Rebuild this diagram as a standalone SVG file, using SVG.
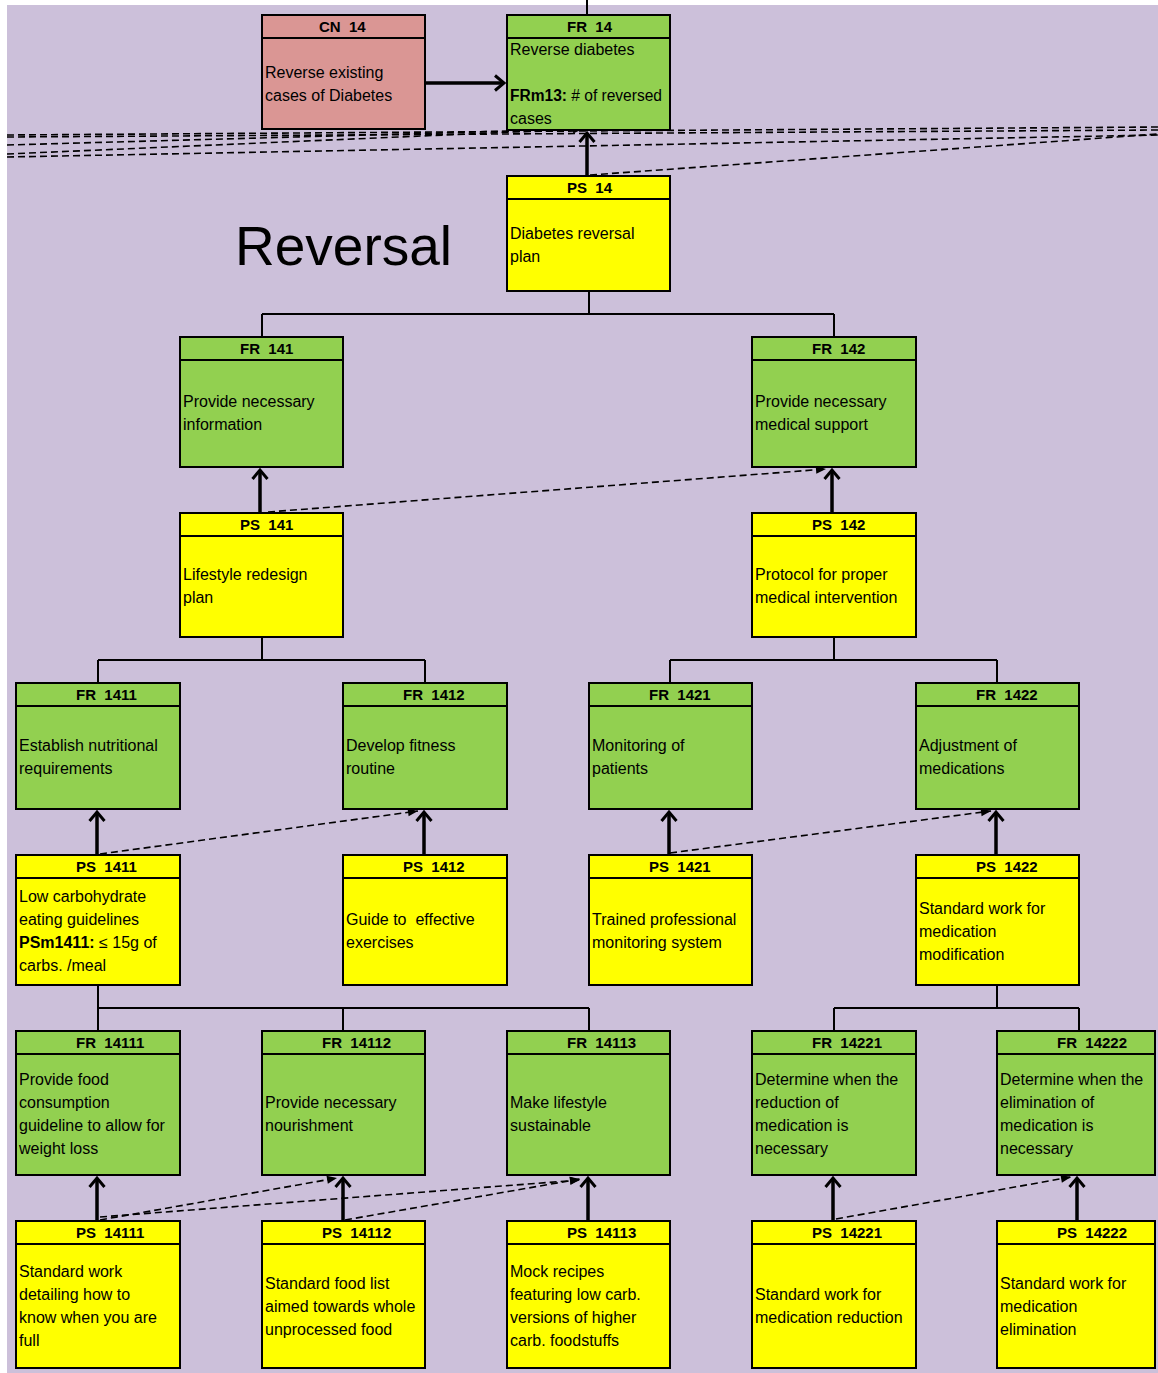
<svg xmlns="http://www.w3.org/2000/svg" width="1158" height="1373" viewBox="0 0 1158 1373">
  <style>
    .box { stroke: #000; stroke-width: 2; }
    .fr { fill: #92D050; }
    .ps { fill: #FFFF00; }
    .cn { fill: #DA9694; }
    .sep { stroke: #000; stroke-width: 2; }
    .hd { font-family: "Liberation Sans", Arial, sans-serif; font-size: 15px; font-weight: bold; fill: #000; white-space: pre; }
    .tx { font-family: "Liberation Sans", Arial, sans-serif; font-size: 16px; fill: #000; white-space: pre; }
    .b { font-weight: bold; }
    .tree { stroke: #000; stroke-width: 2; fill: none; }
    .solid { stroke: #000; stroke-width: 3.5; fill: none; marker-end: url(#openHead); }
    .dash { stroke: #000; stroke-width: 1.6; fill: none; stroke-dasharray: 7 4; }
    .dashArrow { stroke: #000; stroke-width: 1.6; fill: none; stroke-dasharray: 7 4; marker-end: url(#smallHead); }
    .title { font-family: "Liberation Sans", Arial, sans-serif; font-size: 55px; fill: #000; }
  </style>
  <defs>
    <marker id="openHead" markerUnits="userSpaceOnUse" markerWidth="20" markerHeight="20" refX="10" refY="8" orient="auto" overflow="visible">
      <path d="M1,0.5 L10,8 L1,15.5" fill="none" stroke="#000" stroke-width="3"/>
    </marker>
    <marker id="smallHead" markerUnits="userSpaceOnUse" markerWidth="12" markerHeight="10" refX="10" refY="4" orient="auto" overflow="visible">
      <path d="M0,0 L10,4 L0,8 z" fill="#000"/>
    </marker>
  </defs>

  <!-- page background -->
  <rect x="0" y="0" width="1158" height="1373" fill="#FFFFFF"/>
  <rect x="7" y="5" width="1151" height="1368" fill="#CCC0DA"/>

  <text class="title" x="235" y="265">Reversal</text>

  <!-- connectors -->
  <g id="connectors">
    <!-- hierarchy lines -->
    <path class="tree" d="M587,0 V15"/>
    <path class="tree" d="M589,291 V314 M262,314 H834 M262,314 V337 M834,314 V337"/>
    <path class="tree" d="M262,637 V660 M98,660 H425 M98,660 V683 M425,660 V683"/>
    <path class="tree" d="M834,637 V660 M670,660 H997 M670,660 V683 M997,660 V683"/>
    <path class="tree" d="M98,985 V1008 M98,1008 H589 M98,1008 V1031 M343,1008 V1031 M589,1008 V1031"/>
    <path class="tree" d="M997,985 V1008 M834,1008 H1079 M834,1008 V1031 M1079,1008 V1031"/>

    <!-- cross-page dashed links -->
    <path class="dash" d="M7,135 L1158,127"/>
    <path class="dash" d="M7,137 L1158,130"/>
    <path class="dash" d="M7,157 L1158,135"/>
    <path class="dash" d="M590,175 L1158,134"/>
    <path class="dash" d="M7,145 L583,129"/>
    <path class="dashArrow" d="M7,154 L583,129"/>

    <!-- solid arrows -->
    <path class="solid" d="M425,83 H504"/>
    <path class="solid" d="M587,176 V133"/>
    <path class="solid" d="M260,513 V470"/>
    <path class="solid" d="M832,513 V470"/>
    <path class="solid" d="M97,855 V812"/>
    <path class="solid" d="M424,855 V812"/>
    <path class="solid" d="M669,855 V812"/>
    <path class="solid" d="M996,855 V812"/>
    <path class="solid" d="M97,1221 V1178"/>
    <path class="solid" d="M343,1221 V1178"/>
    <path class="solid" d="M588,1221 V1178"/>
    <path class="solid" d="M833,1221 V1178"/>
    <path class="solid" d="M1077,1221 V1178"/>

    <!-- dashed dependency arrows -->
    <path class="dashArrow" d="M268,512 L826,469"/>
    <path class="dashArrow" d="M100,854 L418,811"/>
    <path class="dashArrow" d="M670,853 L991,811"/>
    <path class="dashArrow" d="M100,1220 L337,1178"/>
    <path class="dashArrow" d="M100,1217 L580,1180"/>
    <path class="dashArrow" d="M345,1220 L580,1179"/>
    <path class="dashArrow" d="M836,1219 L1071,1177"/>
  </g>

  <!-- nodes -->
  <g id="CN14">
    <rect class="box cn" x="262" y="15" width="163" height="114"/>
    <line class="sep" x1="262" y1="38" x2="425" y2="38"/>
    <text class="hd" x="319" y="32">CN  14</text>
    <text class="tx" x="265" y="78">Reverse existing</text>
    <text class="tx" x="265" y="101">cases of Diabetes</text>
  </g>
  <g id="FR14">
    <rect class="box fr" x="507" y="15" width="163" height="115"/>
    <line class="sep" x1="507" y1="38" x2="670" y2="38"/>
    <text class="hd" x="567" y="32">FR  14</text>
    <text class="tx" x="510" y="55">Reverse diabetes</text>
    <text class="tx" x="510" y="101" textLength="152" lengthAdjust="spacingAndGlyphs"><tspan class="b">FRm13:</tspan> # of reversed</text>
    <text class="tx" x="510" y="124">cases</text>
  </g>
  <g id="PS14">
    <rect class="box ps" x="507" y="176" width="163" height="115"/>
    <line class="sep" x1="507" y1="199" x2="670" y2="199"/>
    <text class="hd" x="567" y="193">PS  14</text>
    <text class="tx" x="510" y="239">Diabetes reversal</text>
    <text class="tx" x="510" y="262">plan</text>
  </g>

  <g id="FR141">
    <rect class="box fr" x="180" y="337" width="163" height="130"/>
    <line class="sep" x1="180" y1="360" x2="343" y2="360"/>
    <text class="hd" x="240" y="354">FR  141</text>
    <text class="tx" x="183" y="407">Provide necessary</text>
    <text class="tx" x="183" y="430">information</text>
  </g>
  <g id="FR142">
    <rect class="box fr" x="752" y="337" width="164" height="130"/>
    <line class="sep" x1="752" y1="360" x2="916" y2="360"/>
    <text class="hd" x="812" y="354">FR  142</text>
    <text class="tx" x="755" y="407">Provide necessary</text>
    <text class="tx" x="755" y="430">medical support</text>
  </g>
  <g id="PS141">
    <rect class="box ps" x="180" y="513" width="163" height="124"/>
    <line class="sep" x1="180" y1="536" x2="343" y2="536"/>
    <text class="hd" x="240" y="530">PS  141</text>
    <text class="tx" x="183" y="580">Lifestyle redesign</text>
    <text class="tx" x="183" y="603">plan</text>
  </g>
  <g id="PS142">
    <rect class="box ps" x="752" y="513" width="164" height="124"/>
    <line class="sep" x1="752" y1="536" x2="916" y2="536"/>
    <text class="hd" x="812" y="530">PS  142</text>
    <text class="tx" x="755" y="580">Protocol for proper</text>
    <text class="tx" x="755" y="603">medical intervention</text>
  </g>

  <g id="FR1411">
    <rect class="box fr" x="16" y="683" width="164" height="126"/>
    <line class="sep" x1="16" y1="706" x2="180" y2="706"/>
    <text class="hd" x="76" y="700">FR  1411</text>
    <text class="tx" x="19" y="751">Establish nutritional</text>
    <text class="tx" x="19" y="774">requirements</text>
  </g>
  <g id="FR1412">
    <rect class="box fr" x="343" y="683" width="164" height="126"/>
    <line class="sep" x1="343" y1="706" x2="507" y2="706"/>
    <text class="hd" x="403" y="700">FR  1412</text>
    <text class="tx" x="346" y="751">Develop fitness</text>
    <text class="tx" x="346" y="774">routine</text>
  </g>
  <g id="FR1421">
    <rect class="box fr" x="589" y="683" width="163" height="126"/>
    <line class="sep" x1="589" y1="706" x2="752" y2="706"/>
    <text class="hd" x="649" y="700">FR  1421</text>
    <text class="tx" x="592" y="751">Monitoring of</text>
    <text class="tx" x="592" y="774">patients</text>
  </g>
  <g id="FR1422">
    <rect class="box fr" x="916" y="683" width="163" height="126"/>
    <line class="sep" x1="916" y1="706" x2="1079" y2="706"/>
    <text class="hd" x="976" y="700">FR  1422</text>
    <text class="tx" x="919" y="751">Adjustment of</text>
    <text class="tx" x="919" y="774">medications</text>
  </g>

  <g id="PS1411">
    <rect class="box ps" x="16" y="855" width="164" height="130"/>
    <line class="sep" x1="16" y1="878" x2="180" y2="878"/>
    <text class="hd" x="76" y="872">PS  1411</text>
    <text class="tx" x="19" y="902">Low carbohydrate</text>
    <text class="tx" x="19" y="925">eating guidelines</text>
    <text class="tx" x="19" y="948"><tspan class="b">PSm1411:</tspan> ≤ 15g of</text>
    <text class="tx" x="19" y="971">carbs. /meal</text>
  </g>
  <g id="PS1412">
    <rect class="box ps" x="343" y="855" width="164" height="130"/>
    <line class="sep" x1="343" y1="878" x2="507" y2="878"/>
    <text class="hd" x="403" y="872">PS  1412</text>
    <text class="tx" x="346" y="925">Guide to  effective</text>
    <text class="tx" x="346" y="948">exercises</text>
  </g>
  <g id="PS1421">
    <rect class="box ps" x="589" y="855" width="163" height="130"/>
    <line class="sep" x1="589" y1="878" x2="752" y2="878"/>
    <text class="hd" x="649" y="872">PS  1421</text>
    <text class="tx" x="592" y="925">Trained professional</text>
    <text class="tx" x="592" y="948">monitoring system</text>
  </g>
  <g id="PS1422">
    <rect class="box ps" x="916" y="855" width="163" height="130"/>
    <line class="sep" x1="916" y1="878" x2="1079" y2="878"/>
    <text class="hd" x="976" y="872">PS  1422</text>
    <text class="tx" x="919" y="914">Standard work for</text>
    <text class="tx" x="919" y="937">medication</text>
    <text class="tx" x="919" y="960">modification</text>
  </g>

  <g id="FR14111">
    <rect class="box fr" x="16" y="1031" width="164" height="144"/>
    <line class="sep" x1="16" y1="1054" x2="180" y2="1054"/>
    <text class="hd" x="76" y="1048">FR  14111</text>
    <text class="tx" x="19" y="1085">Provide food</text>
    <text class="tx" x="19" y="1108">consumption</text>
    <text class="tx" x="19" y="1131">guideline to allow for</text>
    <text class="tx" x="19" y="1154">weight loss</text>
  </g>
  <g id="FR14112">
    <rect class="box fr" x="262" y="1031" width="163" height="144"/>
    <line class="sep" x1="262" y1="1054" x2="425" y2="1054"/>
    <text class="hd" x="322" y="1048">FR  14112</text>
    <text class="tx" x="265" y="1108">Provide necessary</text>
    <text class="tx" x="265" y="1131">nourishment</text>
  </g>
  <g id="FR14113">
    <rect class="box fr" x="507" y="1031" width="163" height="144"/>
    <line class="sep" x1="507" y1="1054" x2="670" y2="1054"/>
    <text class="hd" x="567" y="1048">FR  14113</text>
    <text class="tx" x="510" y="1108">Make lifestyle</text>
    <text class="tx" x="510" y="1131">sustainable</text>
  </g>
  <g id="FR14221">
    <rect class="box fr" x="752" y="1031" width="164" height="144"/>
    <line class="sep" x1="752" y1="1054" x2="916" y2="1054"/>
    <text class="hd" x="812" y="1048">FR  14221</text>
    <text class="tx" x="755" y="1085">Determine when the</text>
    <text class="tx" x="755" y="1108">reduction of</text>
    <text class="tx" x="755" y="1131">medication is</text>
    <text class="tx" x="755" y="1154">necessary</text>
  </g>
  <g id="FR14222">
    <rect class="box fr" x="997" y="1031" width="158" height="144"/>
    <line class="sep" x1="997" y1="1054" x2="1155" y2="1054"/>
    <text class="hd" x="1057" y="1048">FR  14222</text>
    <text class="tx" x="1000" y="1085">Determine when the</text>
    <text class="tx" x="1000" y="1108">elimination of</text>
    <text class="tx" x="1000" y="1131">medication is</text>
    <text class="tx" x="1000" y="1154">necessary</text>
  </g>

  <g id="PS14111">
    <rect class="box ps" x="16" y="1221" width="164" height="147"/>
    <line class="sep" x1="16" y1="1244" x2="180" y2="1244"/>
    <text class="hd" x="76" y="1238">PS  14111</text>
    <text class="tx" x="19" y="1277">Standard work</text>
    <text class="tx" x="19" y="1300">detailing how to</text>
    <text class="tx" x="19" y="1323">know when you are</text>
    <text class="tx" x="19" y="1346">full</text>
  </g>
  <g id="PS14112">
    <rect class="box ps" x="262" y="1221" width="163" height="147"/>
    <line class="sep" x1="262" y1="1244" x2="425" y2="1244"/>
    <text class="hd" x="322" y="1238">PS  14112</text>
    <text class="tx" x="265" y="1289">Standard food list</text>
    <text class="tx" x="265" y="1312">aimed towards whole</text>
    <text class="tx" x="265" y="1335">unprocessed food</text>
  </g>
  <g id="PS14113">
    <rect class="box ps" x="507" y="1221" width="163" height="147"/>
    <line class="sep" x1="507" y1="1244" x2="670" y2="1244"/>
    <text class="hd" x="567" y="1238">PS  14113</text>
    <text class="tx" x="510" y="1277">Mock recipes</text>
    <text class="tx" x="510" y="1300">featuring low carb.</text>
    <text class="tx" x="510" y="1323">versions of higher</text>
    <text class="tx" x="510" y="1346">carb. foodstuffs</text>
  </g>
  <g id="PS14221">
    <rect class="box ps" x="752" y="1221" width="164" height="147"/>
    <line class="sep" x1="752" y1="1244" x2="916" y2="1244"/>
    <text class="hd" x="812" y="1238">PS  14221</text>
    <text class="tx" x="755" y="1300">Standard work for</text>
    <text class="tx" x="755" y="1323">medication reduction</text>
  </g>
  <g id="PS14222">
    <rect class="box ps" x="997" y="1221" width="158" height="147"/>
    <line class="sep" x1="997" y1="1244" x2="1155" y2="1244"/>
    <text class="hd" x="1057" y="1238">PS  14222</text>
    <text class="tx" x="1000" y="1289">Standard work for</text>
    <text class="tx" x="1000" y="1312">medication</text>
    <text class="tx" x="1000" y="1335">elimination</text>
  </g>
</svg>
